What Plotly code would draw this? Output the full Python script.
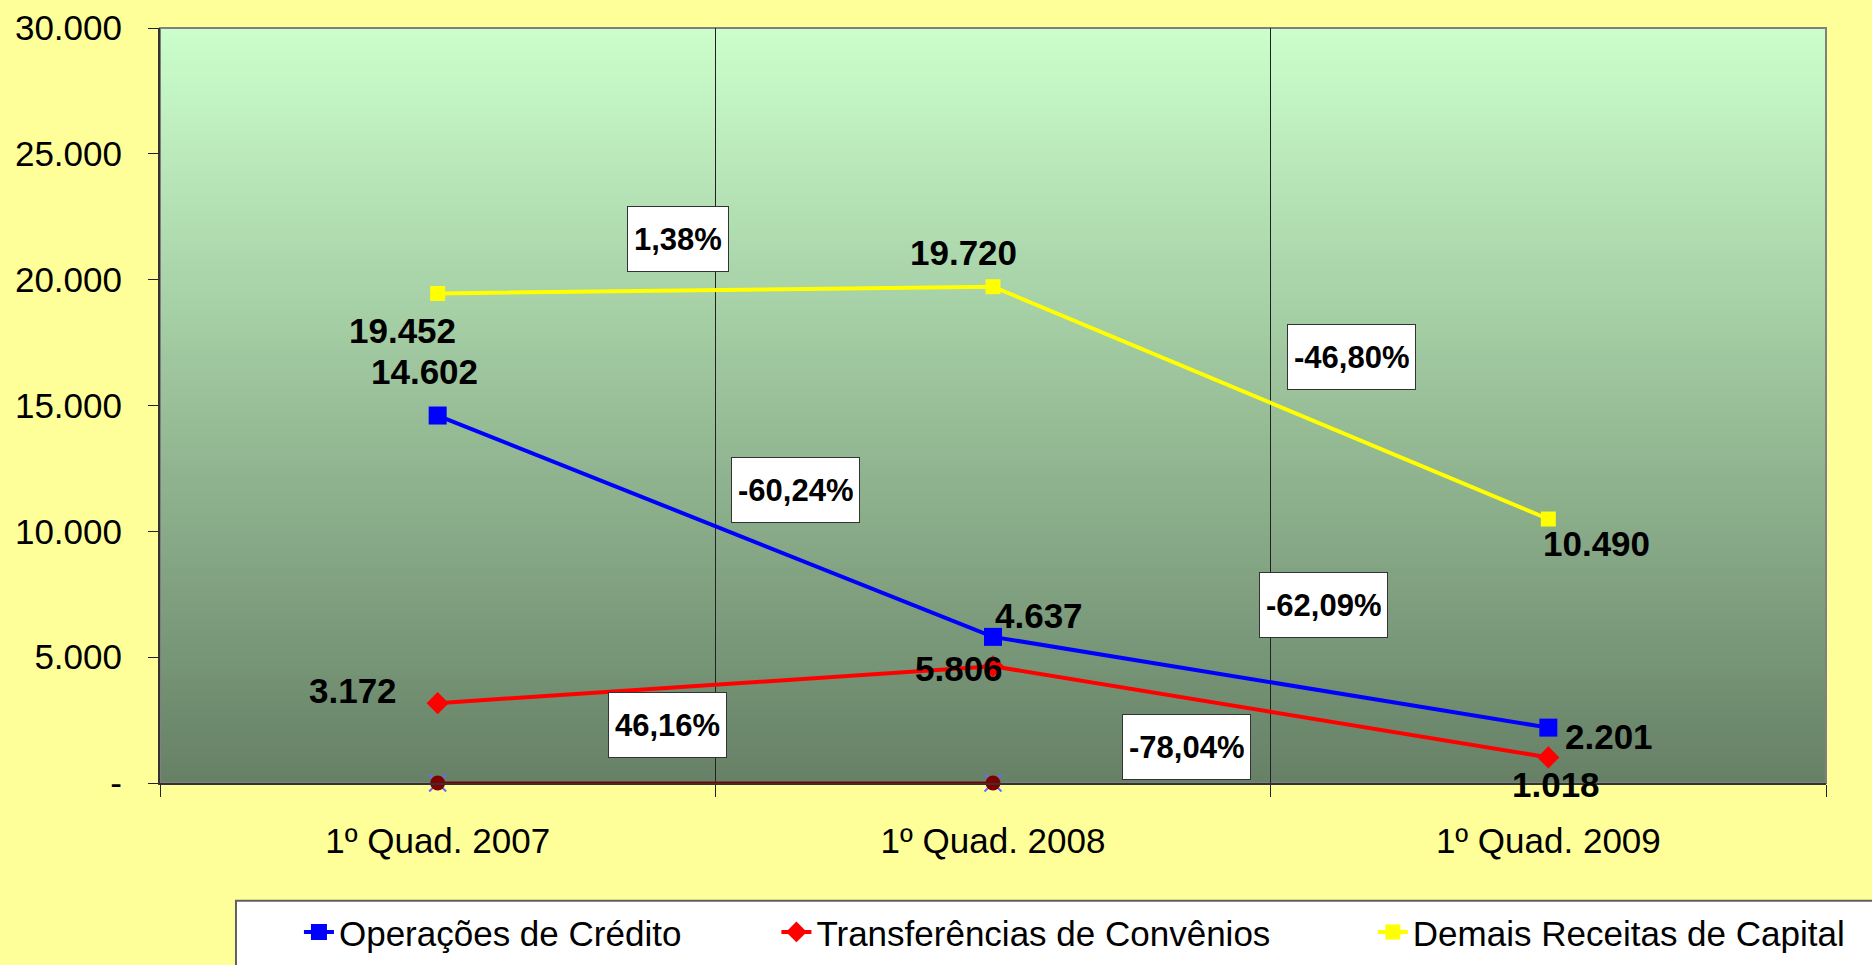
import plotly.graph_objects as go

# chart data
categorias = ["1º Quad. 2007", "1º Quad. 2008", "1º Quad. 2009"]
operacoes_credito = [14602, 5806, 2201]
transferencias_convenios = [3172, 4637, 1018]
demais_receitas = [19452, 19720, 10490]
serie_zero = [0, 0, None]

# data label texts as they appear on the chart
rotulos_credito = ["14.602", "4.637", "2.201"]
rotulos_transf = ["3.172", "5.806", "1.018"]
rotulos_demais = ["19.452", "19.720", "10.490"]

# percentage change boxes (between quarters)
var_credito = ["-60,24%", "-62,09%"]
var_transf = ["46,16%", "-78,04%"]
var_demais = ["1,38%", "-46,80%"]

y_ticks = [0, 5000, 10000, 15000, 20000, 25000, 30000]
y_ticktext = ["-", "5.000", "10.000", "15.000", "20.000", "25.000", "30.000"]

FONT = "Liberation Sans, Arial, sans-serif"

fig = go.Figure()

# hidden zero series (shown only as markers on the axis)
fig.add_trace(go.Scatter(x=categorias, y=serie_zero, mode="markers", showlegend=False,
                         marker=dict(symbol="x-thin-open", size=17, line=dict(color="#800080", width=2)),
                         cliponaxis=False, hoverinfo="skip"))
fig.add_trace(go.Scatter(x=categorias, y=serie_zero, mode="lines+markers", showlegend=False,
                         line=dict(color="#800000", width=3),
                         marker=dict(symbol="circle", size=15, color="#800000"),
                         cliponaxis=False, hoverinfo="skip"))

fig.add_trace(go.Scatter(x=categorias, y=demais_receitas, name="Demais Receitas de Capital",
                         mode="lines+markers", line=dict(color="#FFFF00", width=4),
                         marker=dict(symbol="square", size=15, color="#FFFF00"),
                         legend="legend3", cliponaxis=False))
fig.add_trace(go.Scatter(x=categorias, y=transferencias_convenios, name="Transferências de Convênios",
                         mode="lines+markers", line=dict(color="#FF0000", width=4),
                         marker=dict(symbol="diamond", size=17, color="#FF0000"),
                         legend="legend2", cliponaxis=False))
fig.add_trace(go.Scatter(x=categorias, y=operacoes_credito, name="Operações de Crédito",
                         mode="lines+markers", line=dict(color="#0000FF", width=4),
                         marker=dict(symbol="square", size=18, color="#0000FF"),
                         legend="legend", cliponaxis=False))

# background gradient of the plot area
shapes = []
n = 120
top = (204, 255, 204)
bot = (102, 128, 102)
for i in range(n):
    f = (i + 0.5) / n
    c = tuple(int(round(top[k] + (bot[k] - top[k]) * f)) for k in range(3))
    shapes.append(dict(type="rect", xref="x domain", yref="y domain",
                       x0=0, x1=1, y0=1 - (i + 1) / n, y1=1 - i / n + 0.001,
                       fillcolor="rgb(%d,%d,%d)" % c, line=dict(width=0), layer="below"))
shapes.append(dict(type="rect", xref="x domain", yref="y domain", x0=0, x1=1, y0=0, y1=1,
                   line=dict(color="#808080", width=2), layer="below"))
# legend box
shapes.append(dict(type="rect", xref="paper", yref="paper", x0=0.0456, x1=1.06, y0=-0.30, y1=-0.156,
                   fillcolor="white", line=dict(color="#606060", width=2), layer="above"))

annotations = []
# data labels: (x index, y value, text, xshift, yshift)
label_offsets = [
    (0, demais_receitas[0], rotulos_demais[0], -35, -37),
    (1, demais_receitas[1], rotulos_demais[1], -30, 34),
    (2, demais_receitas[2], rotulos_demais[2], 48, -24),
    (0, operacoes_credito[0], rotulos_credito[0], -13, 44),
    (1, transferencias_convenios[1], rotulos_credito[1], 46, 51),
    (2, operacoes_credito[2], rotulos_credito[2], 61, -9),
    (0, transferencias_convenios[0], rotulos_transf[0], -85, 13),
    (1, transferencias_convenios[1], rotulos_transf[1], -34, -2),
    (2, transferencias_convenios[2], rotulos_transf[2], 8, -27),
]
for xi, yv, txt, dx, dy in label_offsets:
    annotations.append(dict(x=xi, y=yv, xref="x", yref="y", text="<b>%s</b>" % txt, showarrow=False,
                            xshift=dx, yshift=dy, font=dict(family=FONT, size=35, color="black")))

# percentage boxes placed between the quarters
boxes = [
    (0.433, 21600, var_demais[0]),
    (1.645, 16925, var_demais[1]),
    (0.645, 11641, var_credito[0]),
    (1.596, 7072, var_credito[1]),
    (0.413, 2304, var_transf[0]),
    (1.349, 1430, var_transf[1]),
]
for xv, yv, txt in boxes:
    annotations.append(dict(x=xv, y=yv, xref="x", yref="y", text="<b>%s</b>" % txt, showarrow=False,
                            bgcolor="white", bordercolor="#333333", borderwidth=1, borderpad=6,
                            height=52, font=dict(family=FONT, size=31, color="black")))

leg_common = dict(orientation="h", yref="container", yanchor="middle", y=0.034, xanchor="left",
                  bgcolor="rgba(0,0,0,0)", borderwidth=0,
                  font=dict(family=FONT, size=35, color="black"))

fig.update_layout(
    width=1872, height=965,
    margin=dict(l=160, r=46, t=28, b=182, autoexpand=False),
    paper_bgcolor="#FFFF99",
    plot_bgcolor="#CCFFCC",
    font=dict(family=FONT, size=35, color="black"),
    showlegend=True,
    legend=dict(x=0.0834, **leg_common),
    legend2=dict(x=0.370, **leg_common),
    legend3=dict(x=0.728, **leg_common),
    shapes=shapes,
    annotations=annotations,
    xaxis=dict(type="category", range=[-0.5, 2.5], tickson="boundaries",
               showgrid=True, gridcolor="#222222", gridwidth=1,
               ticks="outside", ticklen=12, tickcolor="#222222",
               showline=True, linecolor="#333333", linewidth=2,
               ticklabelstandoff=26, tickfont=dict(family=FONT, size=35),
               fixedrange=True),
    yaxis=dict(range=[0, 30000], tickvals=y_ticks, ticktext=y_ticktext,
               showgrid=False, zeroline=False,
               ticks="outside", ticklen=10, tickcolor="#222222",
               showline=True, linecolor="#333333", linewidth=2,
               ticklabelstandoff=19, tickfont=dict(family=FONT, size=35),
               fixedrange=True),
)

# page without the default body margin so the figure fills the window
fig.write_html("out.html", config={"displayModeBar": False},
               post_script="document.body.style.margin='0';document.body.style.overflow='hidden';")
